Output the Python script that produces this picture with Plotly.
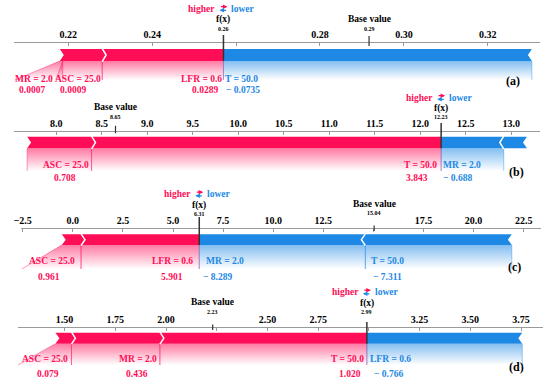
import plotly.graph_objects as go

W, H = 550, 387
RED = (255, 13, 87)
BLUE = (30, 136, 229)
FONT = "Liberation Serif"

# ---------------- data ----------------
# (a)
A_BASE, A_FX = 0.2917, 0.257
A_FEATURES = ["MR = 2.0", "ASC = 25.0", "LFR = 0.6", "T = 50.0"]
A_SHAP = [0.0007, 0.0009, 0.0289, -0.0735]
A_BAR = [0.0007, 0.0094, 0.0289, -0.0735]          # segment lengths as drawn
A_TICKS = [0.22, 0.24, 0.26, 0.28, 0.30, 0.32]
A_TICKTEXT = ["0.22", "0.24", "", "0.28", "0.30", "0.32"]
# (b)
B_BASE, B_FX = 8.65, 12.23
B_FEATURES = ["ASC = 25.0", "T = 50.0", "MR = 2.0", ""]
B_SHAP = [0.708, 3.843, -0.688, -0.255]
B_BAR = [0.708, 3.843, -0.688, -0.255]
B_TICKS = [8.0, 8.5, 9.0, 9.5, 10.0, 10.5, 11.0, 11.5, 12.0, 12.5, 13.0]
B_TICKTEXT = ["8.0", "8.5", "9.0", "9.5", "10.0", "10.5", "11.0", "11.5", "12.0", "12.5", "13.0"]
# (c)
C_BASE, C_FX = 15.04, 6.31
C_FEATURES = ["ASC = 25.0", "LFR = 0.6", "MR = 2.0", "T = 50.0"]
C_SHAP = [0.961, 5.901, -8.289, -7.311]
C_BAR = [0.961, 5.901, -8.289, -7.311]
C_TICKS = [-2.5, 0.0, 2.5, 5.0, 7.5, 10.0, 12.5, 15.0, 17.5, 20.0, 22.5]
C_TICKTEXT = ["\u22122.5", "0.0", "2.5", "5.0", "7.5", "10.0", "12.5", "", "17.5", "20.0", "22.5"]
# (d)
D_BASE, D_FX = 2.23, 2.99
D_FEATURES = ["ASC = 25.0", "MR = 2.0", "T = 50.0", "LFR = 0.6"]
D_SHAP = [0.079, 0.436, 1.020, -0.766]
D_BAR = [0.079, 0.436, 1.020, -0.766]
D_TICKS = [1.5, 1.75, 2.0, 2.25, 2.5, 2.75, 3.0, 3.25, 3.5, 3.75]
D_TICKTEXT = ["1.50", "1.75", "2.00", "", "2.50", "2.75", "", "3.25", "3.50", "3.75"]

# ---------------- layout (pixel rows / columns) ----------------
panels = [
    dict(base=A_BASE, fx=A_FX, feats=A_FEATURES, shap=A_SHAP, bar=A_BAR,
         ticks=A_TICKTEXT and A_TICKS, ticktext=A_TICKTEXT, dec=4, fxtext="0.26", basetext="0.29", tag="(a)",
         dom=(7, 540), anchor=(0.22, 62, 4250.0), axis_y=42, bar_y=(49, 61), grad_bot=80,
         name_y=79, val_y=90, hl_y=8.5, fxlab_y=19.5, fxval_y=28.5, fxtop=35,
         blab_y=19, bval_y=29, btick=(36, 46), tag_xy=(513, 81),
         lab=[(27.5, 25.5, 8, 47), (71.7, 67, 49.3, 94), (196.7, 201, 176, 217), (238, 239, 220.7, 255)]),
    dict(base=B_BASE, fx=B_FX, feats=B_FEATURES, shap=B_SHAP, bar=B_BAR,
         ticks=B_TICKS, ticktext=B_TICKTEXT, dec=3, fxtext="12.23", basetext="8.65", tag="(b)",
         dom=(7, 540), anchor=(8.0, 50, 92.14), axis_y=131, bar_y=(136.7, 148.3), grad_bot=171,
         name_y=164.5, val_y=177.5, hl_y=97.5, fxlab_y=108.5, fxval_y=117, fxtop=123,
         blab_y=106.7, bval_y=117, btick=(125.7, 133.3), tag_xy=(515.7, 172),
         lab=[(59.7, 58.8, 36, 83.3), (419, 415, 403, 435), (460.8, 456.2, 441.7, 480), None]),
    dict(base=C_BASE, fx=C_FX, feats=C_FEATURES, shap=C_SHAP, bar=C_BAR,
         ticks=C_TICKS, ticktext=C_TICKTEXT, dec=3, fxtext="6.31", basetext="15.04", tag="(c)",
         dom=(14, 541), anchor=(0.0, 66.7, 20.293), axis_y=227.7, bar_y=(234.3, 245), grad_bot=269,
         name_y=261, val_y=277, hl_y=194, fxlab_y=205.5, fxval_y=214.3, fxtop=217,
         blab_y=204, bval_y=213, btick=(225.5, 231), tag_xy=(514, 267),
         lab=[(45.8, 42.2, 15, 69), (167.8, 166.7, 148.3, 187.3), (220.5, 213.7, 201.7, 239.3), (385.8, 385.5, 370, 401.7)]),
    dict(base=D_BASE, fx=D_FX, feats=D_FEATURES, shap=D_SHAP, bar=D_BAR,
         ticks=D_TICKS, ticktext=D_TICKTEXT, dec=3, fxtext="2.99", basetext="2.23", tag="(d)",
         dom=(11, 543), anchor=(1.5, 58.3, 205.5), axis_y=327, bar_y=(332.7, 343.7), grad_bot=365,
         name_y=359, val_y=374, hl_y=292, fxlab_y=303, fxval_y=311.5, fxtop=322,
         blab_y=302, bval_y=312, btick=(324.5, 330), tag_xy=(515.7, 367),
         lab=[(38.8, 42, 11, 62), (132.5, 132, 113.3, 151.7), (344.7, 347.5, 328.3, 361), (388, 386.3, 365, 411)]),
]


def rgba(c, a):
    return "rgba(%d,%d,%d,%s)" % (c[0], c[1], c[2], a)


fig = go.Figure()
shapes = []
annotations = []
layout_axes = {}


def ann(text, x, y, size=10, color="black", xanchor="center", xref="paper", bold=True,
        xshift=0, yshift=0, family=FONT):
    annotations.append(dict(text=text, x=x, y=y, xref=xref, yref="y", showarrow=False,
                            xanchor=xanchor, yanchor="middle", xshift=xshift, yshift=yshift,
                            font=dict(family=family, size=size, color=color,
                                      weight="bold" if bold else "normal")))


def arrow(x_head, y, ax_px, color, xref):
    annotations.append(dict(text="", x=x_head, y=y, xref=xref, yref="y", showarrow=True,
                            ax=ax_px, ay=0, arrowhead=2, arrowsize=0.7, arrowwidth=1.3,
                            arrowcolor=color, standoff=0, startstandoff=0))


for i, p in enumerate(panels):
    ax = "x" if i == 0 else "x%d" % (i + 1)
    axname = "xaxis" if i == 0 else "xaxis%d" % (i + 1)
    v0, p0, k = p["anchor"]
    d0, d1 = p["dom"]
    rng = [v0 + (d0 - p0) / k, v0 + (d1 - p0) / k]
    to_data = lambda px, v0=v0, p0=p0, k=k: v0 + (px - p0) / k
    layout_axes[axname] = dict(
        domain=[d0 / W, d1 / W], range=rng, anchor="free", position=1 - p["axis_y"] / H,
        side="top", showline=True, linecolor="#9a9a9a", linewidth=1,
        ticks="inside", ticklen=3, tickcolor="#9a9a9a", tickwidth=1,
        tickvals=p["ticks"], ticktext=p["ticktext"], showgrid=False, zeroline=False,
        tickfont=dict(family=FONT, size=10, color="black", weight="bold"),
        fixedrange=True,
    )
    top, bot = p["bar_y"]
    mid = (top + bot) / 2
    dd = 4.0 / k
    fx = p["fx"]
    bar = p["bar"]
    # segments
    red_total = sum(b for b in bar if b > 0)
    segs = []
    x = fx - red_total
    for b in bar:
        if b > 0:
            segs.append((x, x + b, RED))
            x += b
    x = fx
    for b in bar:
        if b < 0:
            segs.append((x, x - b, BLUE))
            x -= b
    start = fx - red_total
    end = x

    # gradient connectors
    for j, (s0, s1, col) in enumerate(segs):
        lb = p["lab"][j]
        if lb is None or p["feats"][j] == "":
            continue
        b0 = min(s0, to_data(lb[2]))
        b1 = max(s1, to_data(lb[3]))
        fig.add_trace(go.Scatter(
            x=[s0, s1, b1, b0, s0], y=[bot, bot, p["grad_bot"], p["grad_bot"], bot],
            xaxis=ax, yaxis="y", mode="lines", fill="toself", line=dict(width=0),
            fillgradient=dict(type="vertical", start=bot, stop=p["grad_bot"],
                              colorscale=[[0, rgba(col, 0.55)], [1, rgba(col, 0.0)]]),
            hoverinfo="skip", showlegend=False))
        for (xa, xb) in ((s0, b0), (s1, b1)):
            fig.add_trace(go.Scatter(
                x=[xa, xb], y=[bot, p["grad_bot"]], xaxis=ax, yaxis="y", mode="lines",
                line=dict(color=rgba(col, 0.4), width=1), hoverinfo="skip", showlegend=False))

    # red bar
    fig.add_trace(go.Scatter(
        x=[start, fx, fx, start, start + dd, start], y=[top, top, bot, bot, mid, top],
        xaxis=ax, yaxis="y", mode="lines", fill="toself", fillcolor=rgba(RED, 1),
        line=dict(width=0), hoverinfo="skip", showlegend=False))
    # blue bar
    fig.add_trace(go.Scatter(
        x=[fx, end, end - dd, end, fx, fx], y=[top, top, mid, bot, bot, top],
        xaxis=ax, yaxis="y", mode="lines", fill="toself", fillcolor=rgba(BLUE, 1),
        line=dict(width=0), hoverinfo="skip", showlegend=False))
    # separators
    for j, (s0, s1, col) in enumerate(segs):
        if col == RED and s1 < fx - 1e-12 and (s1 - s0) * k > 5:
            fig.add_trace(go.Scatter(x=[s1, s1 + dd, s1], y=[top - 0.5, mid, bot + 0.5], xaxis=ax, yaxis="y",
                                     mode="lines", line=dict(color="white", width=1.5),
                                     hoverinfo="skip", showlegend=False))
        if col == BLUE and s1 < end - 1e-12:
            fig.add_trace(go.Scatter(x=[s1, s1 - dd, s1], y=[top - 0.5, mid, bot + 0.5], xaxis=ax, yaxis="y",
                                     mode="lines", line=dict(color="white", width=1.5),
                                     hoverinfo="skip", showlegend=False))

    # f(x) line and base value tick
    shapes.append(dict(type="line", xref=ax, yref="y", x0=fx, x1=fx, y0=p["fxtop"], y1=bot,
                       line=dict(color="#333333", width=1.5)))
    shapes.append(dict(type="line", xref=ax, yref="y", x0=p["base"], x1=p["base"], y0=p["btick"][0],
                       y1=p["btick"][1], line=dict(color="#333333", width=1.2)))

    # f(x) labels
    ann("f(x)", fx, p["fxlab_y"], size=9.5, xref=ax)
    ann(p["fxtext"], fx, p["fxval_y"], size=6, xref=ax)
    ann("higher", fx, p["hl_y"], size=9.5, color=rgba(RED, 1), xanchor="right", xref=ax, xshift=-6)
    ann("lower", fx, p["hl_y"], size=9.5, color=rgba(BLUE, 1), xanchor="left", xref=ax, xshift=6)
    arrow(fx + 4.0 / k, p["hl_y"] - 1.8, -8, rgba(RED, 1), ax)
    arrow(fx - 4.0 / k, p["hl_y"] + 1.8, 8, rgba(BLUE, 1), ax)
    # base value labels
    ann("Base value", p["base"], p["blab_y"], size=9.5, xref=ax)
    ann(p["basetext"], p["base"], p["bval_y"], size=6, xref=ax)

    # feature labels
    for j, (s0, s1, col) in enumerate(segs):
        lb = p["lab"][j]
        if lb is None or p["feats"][j] == "":
            continue
        v = p["shap"][j]
        txt = ("%.*f" % (p["dec"], abs(v)))
        if v < 0:
            txt = "\u2212 " + txt
        ann(p["feats"][j], lb[0] / W, p["name_y"], size=9.5, color=rgba(col, 1))
        ann(txt, lb[1] / W, p["val_y"], size=9.5, color=rgba(col, 1))
    ann(p["tag"], p["tag_xy"][0] / W, p["tag_xy"][1], size=12)

fig.update_layout(
    width=W, height=H, autosize=False,
    margin=dict(l=0, r=0, t=0, b=0, pad=0),
    paper_bgcolor="white", plot_bgcolor="rgba(0,0,0,0)",
    yaxis=dict(domain=[0, 1], range=[H, 0], visible=False, fixedrange=True),
    shapes=shapes, annotations=annotations, showlegend=False,
    **layout_axes,
)

fig.write_html("out.html", config={"displayModeBar": False},
               post_script="document.body.style.margin='0';document.body.style.overflow='hidden';")
